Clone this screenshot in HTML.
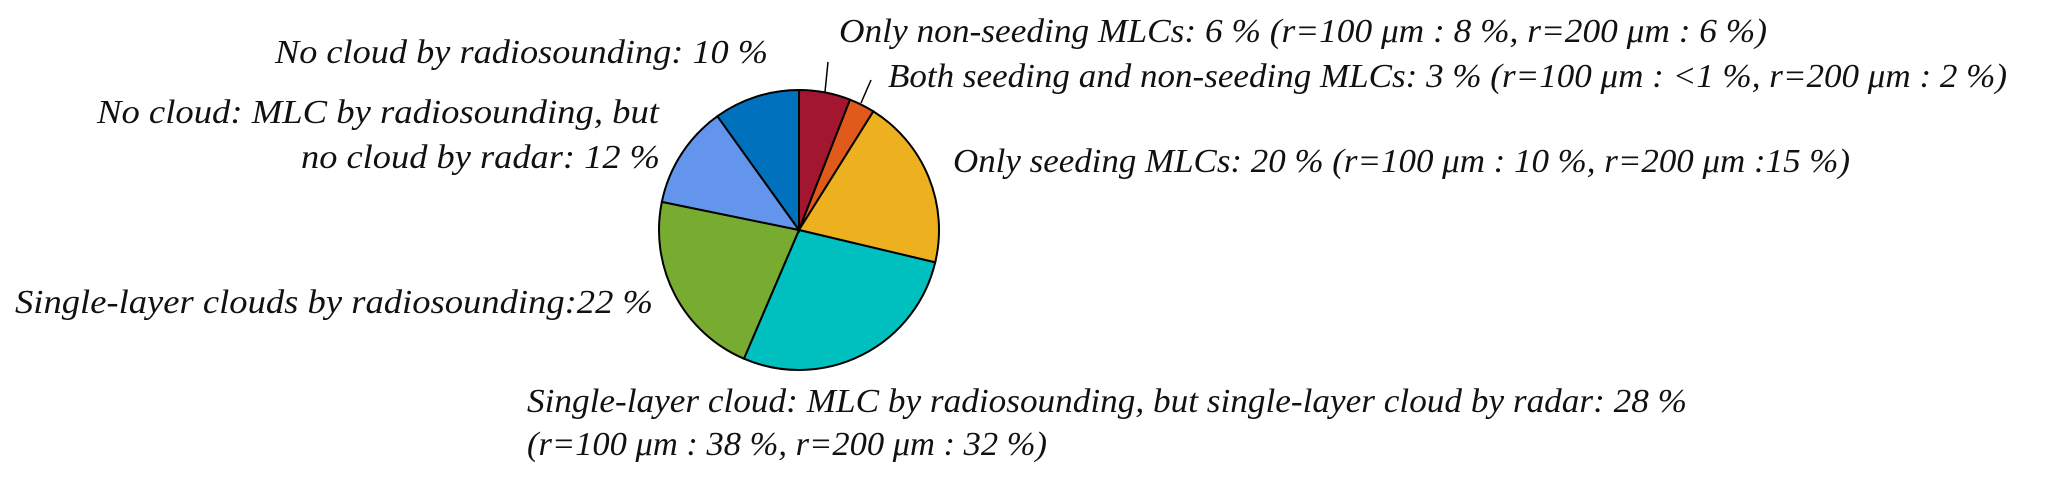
<!DOCTYPE html>
<html><head><meta charset="utf-8"><style>
html,body{margin:0;padding:0;background:#fff;}
svg{display:block;}
text{font-family:"Liberation Serif",serif;font-style:italic;font-size:34px;fill:#111;}
</style></head><body>
<svg id="chart" width="2067" height="483" viewBox="0 0 2067 483">
<g id="slices"></g>
<g>
<line x1="828" y1="62" x2="825" y2="92" stroke="#000" stroke-width="1.5"/>
<line x1="871" y1="80" x2="861" y2="103" stroke="#000" stroke-width="1.5"/>
<text x="839" y="42" textLength="928" lengthAdjust="spacingAndGlyphs">Only non-seeding MLCs: 6 % (r=100 μm : 8 %, r=200 μm : 6 %)</text>
<text x="888" y="87" textLength="1119" lengthAdjust="spacingAndGlyphs">Both seeding and non-seeding MLCs: 3 % (r=100 μm : &lt;1 %, r=200 μm : 2 %)</text>
<text x="953" y="172" textLength="897" lengthAdjust="spacingAndGlyphs">Only seeding MLCs: 20 % (r=100 μm : 10 %, r=200 μm :15 %)</text>
<text x="768" y="63" text-anchor="end" textLength="493" lengthAdjust="spacingAndGlyphs">No cloud by radiosounding: 10 %</text>
<text x="659" y="123" text-anchor="end" textLength="562" lengthAdjust="spacingAndGlyphs">No cloud: MLC by radiosounding, but</text>
<text x="660" y="168" text-anchor="end" textLength="359" lengthAdjust="spacingAndGlyphs">no cloud by radar: 12 %</text>
<text x="653" y="313" text-anchor="end" textLength="638" lengthAdjust="spacingAndGlyphs">Single-layer clouds by radiosounding:22 %</text>
<text x="527" y="412" textLength="1160" lengthAdjust="spacingAndGlyphs">Single-layer cloud: MLC by radiosounding, but single-layer cloud by radar: 28 %</text>
<text x="527" y="455" textLength="520" lengthAdjust="spacingAndGlyphs">(r=100 μm : 38 %, r=200 μm : 32 %)</text>
</g>
</svg>
<script>
const categories = ["Only non-seeding MLCs","Both seeding and non-seeding MLCs","Only seeding MLCs","Single-layer cloud (radar)","Single-layer clouds by radiosounding","No cloud: MLC by radiosounding","No cloud by radiosounding"];
const values = [6, 3, 20, 28, 22, 12, 10];
const colors = ["#A3162F","#DF5A1B","#EDB120","#00BFBF","#77AC30","#6495ED","#0072BD"];
const cx = 799, cy = 230, r = 140;
const g = document.getElementById('slices');
const total = values.reduce((a,b)=>a+b,0);
let acc = 0;
function pt(frac){ const a = frac*2*Math.PI; return [cx + r*Math.sin(a), cy - r*Math.cos(a)]; }
values.forEach((v,i)=>{
  const s = pt(acc/total); acc += v; const e = pt(acc/total);
  const large = v/total > 0.5 ? 1 : 0;
  const p = document.createElementNS('http://www.w3.org/2000/svg','path');
  p.setAttribute('d', `M${cx},${cy} L${s[0]},${s[1]} A${r},${r} 0 ${large} 1 ${e[0]},${e[1]} Z`);
  p.setAttribute('fill', colors[i]);
  p.setAttribute('stroke', '#000');
  p.setAttribute('stroke-width', '2');
  
  
  g.appendChild(p);
});
</script>
</body></html>
